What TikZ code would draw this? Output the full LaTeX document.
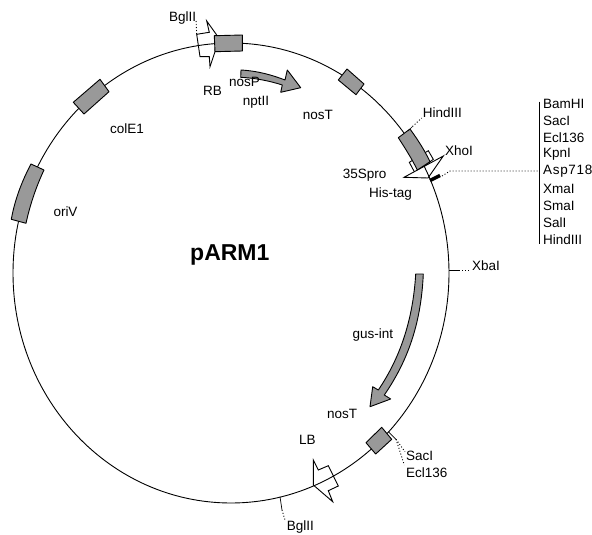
\documentclass[tikz,border=0pt]{standalone}
\usepackage{fontspec}
\setmainfont{Liberation Sans}
\definecolor{blockgray}{HTML}{999999}
\tikzset{
  px/.style={x=1pt,y=-1pt},
  ring/.style={draw=black,line width=0.9pt},
  block/.style={draw=black,line width=0.9pt,fill=blockgray,line join=round},
  hollow/.style={draw=black,line width=0.9pt,fill=white,line join=miter},
  solidtick/.style={draw=black,line width=0.7pt},
  dots/.style={draw=black,line width=0.9pt,dash pattern=on 1pt off 2pt},
  lab/.style={inner sep=0pt,anchor=west,font=\fontsize{13.5}{14}\selectfont,text=black},
  title/.style={inner sep=0pt,font=\fontsize{23}{24}\bfseries\selectfont,text=black}
}
\begin{document}
\begin{tikzpicture}[px]
\useasboundingbox (0,0) rectangle (592,535);
% white parts lying under the ring
\draw[hollow] (196.7,34.3) -- (209.3,32.3) -- (206.7,21) -- (216.7,35) -- (215,51.7) -- (210,66.7) -- (209.3,56.7) -- (200,56.7) -- cycle;
\draw[hollow] (409.3,162.3) -- (428.3,150.7) -- (433.3,159.3) -- (415,173) -- cycle;
\draw[hollow] (404,177.3) -- (443.3,156) -- (428,178) -- cycle;
\draw[hollow] (313.3,460) -- (318.3,470) -- (328.3,465.7) -- (338.3,486) -- (328.3,490.7) -- (332.7,501.7) -- (313.3,485) -- cycle;
% plasmid ring
\draw[ring] (231,273) ellipse [x radius=218,y radius=230];
% feature blocks
\draw[block] (214.3,35.7) -- (242.3,35) -- (242.3,51) -- (215,51.7) -- cycle;
\draw[block] (338.3,80) -- (347,69) -- (364,84) -- (356,94.7) -- cycle;
\draw[block] (398.3,137.7) -- (410,129) .. controls (418,140) and (425,151) .. (430,161.7) -- (417.3,170) .. controls (412,159) and (405,148) .. (398.3,137.7) -- cycle;
\draw[block] (366,442.7) -- (381.7,427.3) -- (391.7,439.3) -- (375.7,454) -- cycle;
\draw[block] (73.3,102.3) -- (100,79.3) -- (109,91.7) -- (84,114) -- cycle;
\draw[block] (31,164) -- (44,170) .. controls (36,187) and (30,205) .. (26,223.3) -- (11.3,219.3) .. controls (15,199) and (22,181) .. (31,164) -- cycle;
% gene arrows
\draw[block] (241,70) .. controls (258,71) and (272,75) .. (285,80) -- (287.3,70) -- (300.7,87.7) -- (280.7,92.3) -- (282.3,85) .. controls (270,81) and (255,78) .. (240.7,77.3) -- cycle;
\draw[block] (415.7,274) .. controls (413,320) and (400,358) .. (378.3,390) -- (372.7,386.7) -- (370,406.7) -- (390.7,399) -- (384.3,395) .. controls (407,362) and (421,325) .. (423.3,274) -- cycle;
% restriction-site marks
\draw[dots] (196.7,34) -- (196,20);
\draw[solidtick] (408,131) -- (412.5,126.5); \draw[dots] (412.5,126.5) -- (421.7,118);
\draw[line width=3.5pt,black] (430,180.5) -- (440,175.5);
\draw[dots] (442,176) -- (450,171) -- (538,171);
\draw[solidtick] (539.3,101.7) -- (539.3,244);
\draw[solidtick] (449,270.7) -- (459,270.7); \draw[dots] (459,270.7) -- (470,270.7);
\draw[solidtick] (388.3,431.7) -- (396,439.3);
\draw[dots] (396,439.3) -- (405,451.7); \draw[dots] (396,439.3) -- (404.3,465);
\draw[solidtick] (280,496.7) -- (282,510); \draw[dots] (282,510) -- (285,520);
% labels
\node[lab] (bgl1) at (169,18) {BglII};
\node[lab] (rb) at (203,91) {RB};
\node[lab] (nosp) at (229,82) {nosP};
\node[lab] (nptii) at (242.7,102) {nptII};
\node[lab] (nost1) at (302.7,115) {nosT};
\node[lab] (hind1) at (422.7,113) {HindIII};
\node[lab] (xho) at (445,151) {XhoI};
\node[lab] (pro) at (342.7,175) {35Spro};
\node[lab] (his) at (369,194) {His-tag};
\node[lab] (l1) at (543,104) {BamHI};
\node[lab] (l2) at (543,121) {SacI};
\node[lab] (l3) at (543,137.7) {Ecl136};
\node[lab] (l4) at (543,154.3) {KpnI};
\node[lab] (l5) at (543,171.3) {\addfontfeature{LetterSpace=5}Asp718};
\node[lab] (l6) at (543,188.7) {XmaI};
\node[lab] (l7) at (543,205.7) {SmaI};
\node[lab] (l8) at (543,222.7) {SalI};
\node[lab] (l9) at (543,239.7) {HindIII};
\node[lab] (cole) at (110,129) {colE1};
\node[lab] (ori) at (53.3,212) {oriV};
\node[title,anchor=base west] (name) at (190,260) {pARM1};
\node[lab] (xba) at (472,266) {XbaI};
\node[lab] (gus) at (352.5,335) {gus-int};
\node[lab] (nost2) at (327,414) {nosT};
\node[lab] (lb) at (299,440) {LB};
\node[lab] (sac) at (406,456) {SacI};
\node[lab] (ecl) at (406,473) {Ecl136};
\node[lab] (bgl2) at (286.7,527) {BglII};
\end{tikzpicture}
\end{document}
